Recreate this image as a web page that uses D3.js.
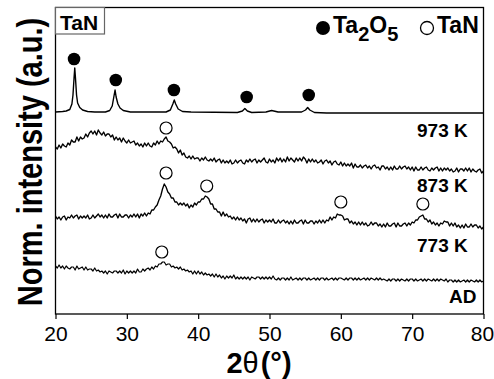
<!DOCTYPE html>
<html><head><meta charset="utf-8">
<script src="https://cdn.jsdelivr.net/npm/d3@7"></script>
<style>body{margin:0;background:#fff}svg{display:block}</style>
</head><body>
<svg id="c" width="494" height="379"></svg>
<script>
// ---- data (2θ in degrees, intensity in a.u.; curves vertically offset) ----
const xTicks = [20, 30, 40, 50, 60, 70, 80];
const gridStart = 20, gridStep = 0.25;   // sampling grid of the scanned curves

// 973 K (top curve, Ta2O5 reflections)
const top973X = [20,21,21.5,22,22.3,22.45,22.6,22.7,22.8,22.95,23.1,23.4,23.8,24.5,25.5,27,27.6,27.95,28.15,28.35,28.5,28.75,29.05,29.5,30.5,35.5,36.1,36.45,36.65,36.85,37.2,37.8,39,45.5,46.2,46.55,46.9,47.5,49.5,50.3,51.2,54.5,55.05,55.35,55.65,56.3,58,80];
const top973Y = [202,202.5,203,204.5,210,219,236,246,236,219,211,206.5,204,202.5,202,202,203.5,208,216,224,217,210,206,203.5,202,202,204,210,214,210,205,202.5,202,201.5,203,205.5,203,201.5,202,203.5,202,202,204,206.5,204,201.5,201,201];

// 873 K
const s873 = [
167,165,169,166, 170,168,167,171, 169,174,172,172, 177,173,177,175, 176,180,177,181,
183,180,183,179, 184,181,179,182, 178,180,180,177, 179,174,177,174, 176,172,176,173,
171,174,171,172, 173,169,171,168, 170,167,171,168, 171,168,167,171, 169,173,170,173,
172,175,177,173, 172,170,166,167, 165,161,164,159, 161,157,156,158, 155,158,155,156,
156,153,156,154, 157,154,153,155, 153,156,152,154, 155,151,154,151, 153,151,154,150,
151,154,151,153, 154,151,150,154, 152,155,152,154, 155,151,154,152, 154,156,152,151,
155,152,154,151, 156,153,156,152, 155,152,157,153, 156,154,152,156, 153,156,153,157,
155,151,155,152, 155,152,154,151, 152,154,150,153, 154,151,153,149, 152,153,150,149,
152,148,151,148, 150,148,151,146, 150,147,147,149, 146,148,149,146, 148,145,148,149,
146,147,144,148, 148,145,147,144, 147,144,148,145, 145,148,145,147, 148,145,147,144,
147,143,147,144, 144,147,144,146, 147,144,143,146, 144,146,147,143, 146,143,146,144,
146,143,145,142, 143,146,142,145, 145,143,146,143, 146,142,145,143, 142,144,145,141,
143];

// 773 K
const s773 = [
98,95,97,94, 97,98,94,97, 96,99,96,98, 99,95,98,96, 98,96,99,95,
96,99,96,98, 100,97,99,96, 99,96,100,97, 97,99,100,96, 100,97,97,99,
99,96,99,97, 100,97,100,96, 100,98,101,98, 101,100,104,104, 107,109,114,118,
125,130,127,122, 120,116,116,112, 112,109,111,109, 111,108,110,106, 109,107,111,109,
112,112,115,115, 118,117,115,110, 110,105,105,102, 102,98,102,98, 100,97,98,95,
97,94,97,94, 96,93,95,91, 95,96,92,95, 92,95,92,94, 95,91,94,92,
94,92,95,91, 91,94,91,93, 94,91,93,90, 93,90,94,91, 91,93,94,90,
94,91,91,93, 93,90,93,91, 94,91,94,91, 94,93,97,94, 97,96,100,99,
99,98,94,95, 95,91,93,90, 92,89,92,89, 92,89,91,88, 89,92,89,91,
91,88,90,87, 90,87,91,88, 88,90,91,87, 91,88,88,90, 91,88,91,89,
92,91,94,94, 97,98,99,95, 95,92,94,90, 92,89,91,88, 91,90,93,92,
92,88,91,88, 91,87,89,86, 89,86,90,87, 87,90,87,89, 89,86,88,85,
87];

// AD (as deposited)
const sAD = [
48,46,49,46, 48,45,48,46, 45,47,47,44, 48,45,46,47, 44,47,44,45,
45,43,46,43, 44,42,43,41, 43,40,43,42, 41,43,43,41, 43,41,44,40,
43,41,43,41, 43,41,45,42, 42,45,43,45, 46,44,47,45, 48,47,50,50,
52,52,49,50, 50,47,48,46, 47,45,47,44, 45,43,44,42, 43,40,43,40,
43,40,42,39, 41,39,40,38, 40,37,40,37, 39,36,38,35, 38,36,38,36,
39,35,37,35, 37,35,37,35, 37,34,37,36, 35,37,37,35, 37,35,37,35,
37,35,38,35, 34,36,34,36, 36,34,36,34, 37,34,35,36, 34,36,34,36,
36,34,36,34, 35,36,34,36, 34,36,36,34, 36,34,35,36, 34,36,34,36,
36,35,34,36, 34,36,36,34, 36,34,36,34, 35,36,34,36, 34,36,35,34,
36,34,36,34, 35,34,33,35, 33,35,35,33, 35,33,35,34, 33,35,33,35,
35,33,35,33, 34,35,33,35, 33,35,34,33, 35,33,35,33, 35,34,33,35,
32,34,34,32, 34,32,34,32, 33,34,32,34, 32,34,33,32, 34,32,34,32,
33];

// phase markers
const oxideX = [22.6, 28.45, 36.6, 46.8, 55.5];
const oxideY = [255, 234, 224, 217, 219];
const nitrideX = [35.5, 35.5, 41.2, 60.0, 71.5, 34.9];
const nitrideY = [186, 141, 128, 112, 110, 62];

const curveNames = ["973 K", "873 K", "773 K", "AD"];
const legendNames = ["Ta2O5", "TaN"];
const panelTag = "TaN";

[s873, s773, sAD].forEach(a => { if (a.length !== 241) throw new Error("length " + a.length); });

// ---- drawing ----
const FONT = "Arial, 'Liberation Sans', Helvetica, sans-serif";
const svg = d3.select("#c");
const x = d3.scaleLinear().domain([20, 80]).range([55.5, 483.5]);
const y = d3.scaleLinear().domain([0, 307]).range([314, 7]);

const line = d3.line().x(d => x(d[0])).y(d => y(d[1]));
const grid = i => gridStart + i * gridStep;

const g = svg.append("g");
// curves
g.append("path").datum(top973X.map((v, i) => [v, top973Y[i]]))
  .attr("d", line).attr("fill", "none").attr("stroke", "#000").attr("stroke-width", 1.4).attr("stroke-linejoin", "round");
[s873, s773, sAD].forEach((arr, k) => {
  g.append("path").datum(arr.map((v, i) => [grid(i), v]))
    .attr("d", line).attr("fill", "none").attr("stroke", "#000")
    .attr("stroke-width", k === 2 ? 1.2 : 1.35).attr("stroke-linejoin", "round");
});

// markers
g.selectAll("circle.ox").data(oxideX.map((v, i) => [v, oxideY[i]])).join("circle")
  .attr("class", "ox").attr("cx", d => x(d[0])).attr("cy", d => y(d[1])).attr("r", 6.3).attr("fill", "#000");
g.selectAll("circle.ni").data(nitrideX.map((v, i) => [v, nitrideY[i]])).join("circle")
  .attr("class", "ni").attr("cx", d => x(d[0])).attr("cy", d => y(d[1])).attr("r", 6)
  .attr("fill", "#fff").attr("stroke", "#000").attr("stroke-width", 1.2);

// frame
svg.append("rect").attr("x", 55.5).attr("y", 7.5).attr("width", 428).attr("height", 306.5)
  .attr("fill", "none").attr("stroke", "#000").attr("stroke-width", 1.3);

// x axis
const ax = svg.append("g").attr("transform", "translate(0,314)")
  .call(d3.axisBottom(x).tickValues(xTicks).tickSize(5).tickPadding(7).tickFormat(d3.format("d")));
ax.select(".domain").remove();
ax.selectAll("line").attr("stroke", "#000").attr("stroke-width", 1.2);
ax.selectAll("text").attr("font-family", FONT).attr("font-size", 21).attr("fill", "#000")
  .attr("dx", d => d === 80 ? -1.5 : 0);

// curve labels
const labPos = [[417, 137], [417, 192], [417, 252], [449, 303]];
svg.selectAll("text.cl").data(curveNames).join("text").attr("class", "cl")
  .attr("x", (d, i) => labPos[i][0]).attr("y", (d, i) => labPos[i][1])
  .attr("font-family", FONT).attr("font-weight", "bold").attr("font-size", 19).attr("fill", "#000")
  .text(d => d);

// panel tag
svg.append("rect").attr("x", 55.5).attr("y", 7.5).attr("width", 49).attr("height", 26.5)
  .attr("fill", "#fff").attr("stroke", "#666").attr("stroke-width", 1.2);
svg.append("text").attr("x", 60).attr("y", 30).attr("font-family", FONT).attr("font-weight", "bold")
  .attr("font-size", 21).text(panelTag);

// legend
svg.append("circle").attr("cx", 323).attr("cy", 28).attr("r", 7).attr("fill", "#000");
const lt = svg.append("text").attr("x", 333).attr("y", 33).attr("font-family", FONT)
  .attr("font-weight", "bold").attr("font-size", 23);
lt.append("tspan").text("Ta");
lt.append("tspan").attr("dy", 8).attr("font-size", 20).text("2");
lt.append("tspan").attr("dy", -8).text("O");
lt.append("tspan").attr("dy", 8).attr("font-size", 20).text("5");
svg.append("circle").attr("cx", 427).attr("cy", 28).attr("r", 6.5).attr("fill", "#fff")
  .attr("stroke", "#000").attr("stroke-width", 1.3);
svg.append("text").attr("x", 437).attr("y", 33).attr("font-family", FONT)
  .attr("font-weight", "bold").attr("font-size", 23).text(legendNames[1]);

// axis titles
const xt = svg.append("text").attr("x", 259).attr("y", 373).attr("text-anchor", "middle")
  .attr("font-family", FONT).attr("font-size", 29).attr("fill", "#000");
xt.append("tspan").attr("font-weight", "bold").text("2");
xt.append("tspan").text("θ");
xt.append("tspan").attr("font-weight", "bold").attr("dx", 2).text("(°)");

svg.append("text").attr("transform", "translate(42,162) rotate(-90) scale(1,1.2)")
  .attr("text-anchor", "middle").attr("font-family", FONT).attr("font-weight", "bold")
  .attr("font-size", 29).attr("fill", "#000").text("Norm. intensity (a.u.)");
</script>
</body></html>
